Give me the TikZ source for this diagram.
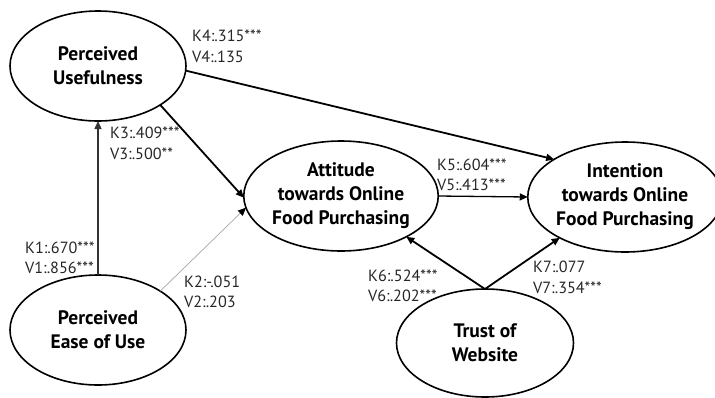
\documentclass[tikz,border=0pt]{standalone}
\usepackage{fontspec}
\setmainfont{PT Sans}
\usetikzlibrary{shapes.geometric,arrows.meta}
\begin{document}
\begin{tikzpicture}[x=1pt,y=-1pt,
  construct/.style={ellipse,draw,line width=1.6pt,inner sep=0pt,outer sep=0pt,
    align=center,font=\fontsize{19.5}{24}\selectfont\bfseries},
  coef/.style={anchor=west,align=left,inner sep=0pt,text=black!85,
    font=\fontsize{16.2}{20.5}\selectfont},
  path/.style={line width=1.8pt,-{Triangle[length=8pt,width=7pt]}},
  mid/.style={line width=1.3pt,-{Triangle[length=8pt,width=7pt]}},
  weak/.style={line width=0.7pt,draw=black!35,-{Triangle[length=8pt,width=7pt,color=black,line width=0.7pt]}}]
\useasboundingbox (0,0) rectangle (715,397);

% constructs
\node[construct,minimum width=176pt,minimum height=110pt] (pu)  at (98,66)  {Perceived\\Usefulness};
\node[construct,minimum width=176pt,minimum height=110pt] (peu) at (98,330) {Perceived\\Ease of Use};
\node[construct,minimum width=194pt,minimum height=110pt] (att) at (341,196) {Attitude\\towards Online\\Food Purchasing};
\node[construct,minimum width=184pt,minimum height=110pt] (int) at (625,197) {Intention\\towards Online\\Food Purchasing};
\node[construct,minimum width=177pt,minimum height=108pt] (tw)  at (485,343) {Trust of\\Website};

% structural paths
\draw[mid,draw=black!80] (peu.north) -- (pu.south);
\draw[path] (pu.-32) -- (att.181);
\draw[weak] (peu.32) -- (att.187);
\draw[path] (pu.-3) -- (int.152);
\draw[mid] (att.east) -- (int.west);
\draw[path] (tw.north) -- (att.-32);
\draw[path] (tw.north) -- (int.-148);

% path coefficients
\node[coef] (c4) at (192,46.5) {K4:.315***\\V4:.135};
\node[coef] (c3) at (110,143.5) {K3:.409***\\V3:.500**};
\node[coef] (c1) at (25,258) {K1:.670***\\V1:.856***};
\node[coef] (c2) at (184,292) {K2:-.051\\V2:.203};
\node[coef] (c5) at (437,175) {K5:.604***\\V5:.413***};
\node[coef] (c6) at (368,286) {K6:.524***\\V6:.202***};
\node[coef] (c7) at (533,277.5) {K7:.077\\V7:.354***};
\end{tikzpicture}
\end{document}
